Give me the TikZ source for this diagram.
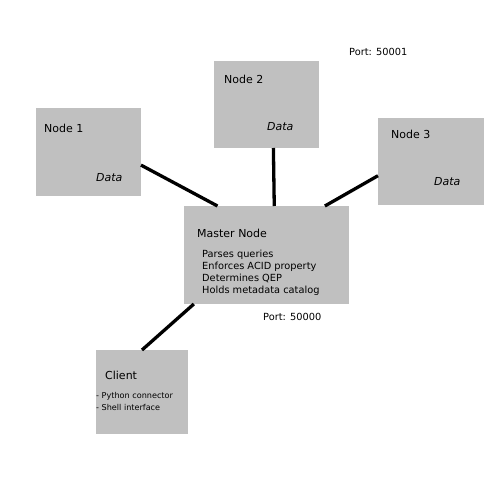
\documentclass[tikz,border=0pt]{standalone}
\usepackage{fontspec}
\setmainfont{DejaVu Sans}
\usetikzlibrary{calc}
\definecolor{boxgray}{HTML}{C0C0C0}
\tikzset{
  box/.style={fill=boxgray, inner sep=0pt, outer sep=0pt},
  link/.style={line width=3.3pt},
  title/.style={anchor=base west, inner sep=0pt, font=\fontsize{11}{13}\selectfont},
  data/.style={anchor=base west, inner sep=0pt, font=\fontsize{11}{13}\selectfont\itshape},
  item/.style={anchor=base west, inner sep=0pt, font=\fontsize{9.8}{12}\selectfont},
  small/.style={anchor=base west, inner sep=0pt, font=\fontsize{8.1}{10}\selectfont},
}
\begin{document}
\begin{tikzpicture}[x=1pt, y=-1pt]
			%%%%% START %%%%%
			\useasboundingbox (0, 0) rectangle (500, 500);
			
			\node[box, minimum width=105pt, minimum height=88pt] (node1) at (88.5, 152) {};
			\node[box, minimum width=105pt, minimum height=87pt] (node2) at (266.5, 104.5) {};
			\node[box, minimum width=106pt, minimum height=87pt] (node3) at (431, 161.5) {};
			\node[box, minimum width=165pt, minimum height=98pt] (master) at (266.5, 255) {};
			\node[box, minimum width=92pt, minimum height=84pt] (client) at (142, 392) {};
			
			\draw[link] (node1.-14.7) -- (master.135);
			\draw[link] (node2.-81.5) -- (master.81.3);
			\draw[link] (node3.195.6) -- (master.40.4);
			\draw[link] (master.214.8) -- (client.90);
			
			\node[title] (t1) at (44, 132) {Node 1};
			\node[data] (d1) at (96, 181) {Data};
			\node[title] (t2) at (224, 84) {Node 2};
			\node[data] (d2) at (267, 130) {Data};
			\node[title] (t3) at (391, 139) {Node 3};
			\node[data] (d3) at (434, 185) {Data};
			
			\node[title] (tm) at (197, 237) {Master Node};
			\node[item] (m1) at (202, 257) {Parses queries};
			\node[item] (m2) at (202, 269) {Enforces ACID property};
			\node[item] (m3) at (202, 281) {Determines QEP};
			\node[item] (m4) at (202, 293) {Holds metadata catalog};
			
			\node[item] (p0) at (263, 320) {Port: 50000};
			\node[item] (p1) at (349, 56) {Port: 50001};
			
			\node[title] (tc) at (105, 379) {Client};
			\node[small] (c1) at (96, 398) {- Python connector};
			\node[small] (c2) at (96, 410) {- Shell interface};
			%%%%% END %%%%%
\end{tikzpicture}
\end{document}
